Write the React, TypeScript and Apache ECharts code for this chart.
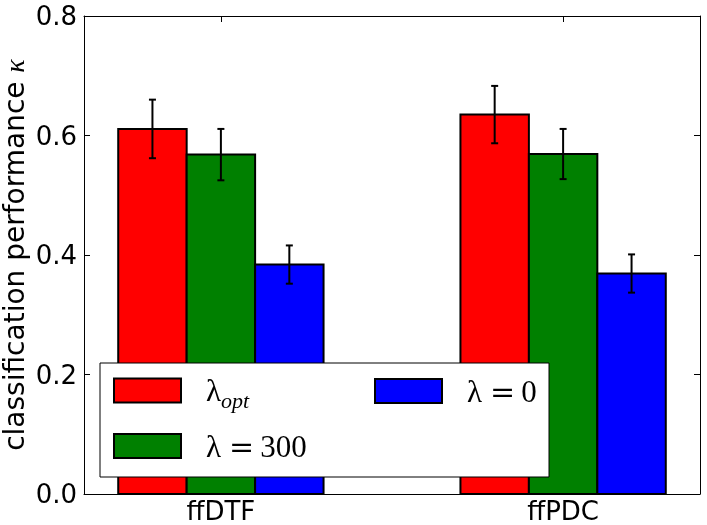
import React, { useEffect, useRef } from "react";
import * as echarts from "echarts";

const categories = ["ffDTF", "ffPDC"];
const seriesNames = ["λ_opt", "λ=300", "λ=0"];
const seriesColors = ["#ff0000", "#008000", "#0000ff"];
const optValues = [0.611, 0.635];
const optErrors = [0.049, 0.048];
const l300Values = [0.568, 0.569];
const l300Errors = [0.043, 0.042];
const l0Values = [0.384, 0.369];
const l0Errors = [0.032, 0.032];
const yTicks = [0, 0.2, 0.4, 0.6, 0.8];

const allValues = [optValues, l300Values, l0Values];
const allErrors = [optErrors, l300Errors, l0Errors];
const offsets = [-0.2, 0, 0.2];
const barW = 0.2;

export default function App() {
  const ref = useRef<HTMLDivElement>(null);
  useEffect(() => {
    if (!ref.current) return;
    document.body.style.margin = "0";
    const chart = echarts.init(ref.current, null, { renderer: "svg" });
    const sans = "DejaVu Sans";
    const serif = "Liberation Serif";

    const series = seriesNames.map((name, si) => ({
      name,
      type: "custom",
      z: 2,
      itemStyle: { color: seriesColors[si], borderColor: "#000", borderWidth: 2 },
      encode: { x: 0, y: 1 },
      data: categories.map((_, ci) => [ci, allValues[si][ci], allErrors[si][ci]]),
      renderItem: (params: any, api: any) => {
        const xc = api.value(0) + offsets[si];
        const v = api.value(1);
        const e = api.value(2);
        const p0 = api.coord([xc - barW / 2, v]);
        const p1 = api.coord([xc + barW / 2, 0]);
        const top = api.coord([xc, v + e]);
        const bot = api.coord([xc, v - e]);
        const cap = 3.5;
        return {
          type: "group",
          children: [
            {
              type: "rect",
              shape: { x: p0[0], y: p0[1], width: p1[0] - p0[0], height: p1[1] - p0[1] },
              style: { fill: seriesColors[si], stroke: "#000", lineWidth: 2 },
            },
            {
              type: "line",
              shape: { x1: top[0], y1: top[1], x2: bot[0], y2: bot[1] },
              style: { stroke: "#000", lineWidth: 2 },
            },
            {
              type: "line",
              shape: { x1: top[0] - cap, y1: top[1], x2: top[0] + cap, y2: top[1] },
              style: { stroke: "#000", lineWidth: 2 },
            },
            {
              type: "line",
              shape: { x1: bot[0] - cap, y1: bot[1], x2: bot[0] + cap, y2: bot[1] },
              style: { stroke: "#000", lineWidth: 2 },
            },
          ],
        };
      },
    }));

    const legendText = {
      color: "#000",
      rich: {
        l: { fontFamily: serif, fontSize: 31, lineHeight: 31, padding: [0, 0, 0, 20], color: "#000" },
        s: { fontFamily: serif, fontSize: 22, lineHeight: 22, fontStyle: "italic", padding: [20, 0, 0, 0], color: "#000" },
        e: { fontFamily: "DejaVu Serif", fontSize: 30, lineHeight: 31, padding: [0, 6, 0, 8], color: "#000" },
        n: { fontFamily: serif, fontSize: 31, lineHeight: 31, color: "#000" },
      },
    };
    const legendFormatter = (name: string) => {
      if (name === "λ_opt") return "{l|λ}{s|opt}";
      const parts = name.split("=");
      return `{l|${parts[0]}}{e|=}{n|${parts[1]}}`;
    };
    const mkLegend = (name: string, left: number, top: number) => ({
      data: [name],
      left,
      top,
      padding: 0,
      icon: "rect",
      itemWidth: 67,
      itemHeight: 24,
      selectedMode: false,
      z: 10,
      itemStyle: { borderColor: "#000", borderWidth: 2 },
      formatter: legendFormatter,
      textStyle: legendText,
    });

    const xBase = {
      type: "value",
      min: -0.4,
      max: 1.4,
      splitLine: { show: false },
      axisLine: { show: true, onZero: false, lineStyle: { color: "#000", width: 1 } },
      axisTick: { show: true, inside: true, length: 6, customValues: [0, 1], lineStyle: { color: "#000" } },
    };
    const yBase = {
      type: "value",
      min: 0,
      max: 0.8,
      interval: 0.2,
      splitLine: { show: false },
      axisLine: { show: true, onZero: false, lineStyle: { color: "#000", width: 1 } },
      axisTick: { show: true, inside: true, length: 6, lineStyle: { color: "#000" } },
    };

    chart.setOption({
      animation: false,
      grid: { left: 84, right: 7, top: 16, bottom: 31, containLabel: false, outerBoundsMode: "none" },
      xAxis: [
        {
          ...xBase,
          position: "bottom",
          axisLabel: {
            customValues: [0, 1],
            formatter: (v: number) => categories[Math.round(v)],
            fontFamily: sans,
            fontSize: 26,
            color: "#000",
            margin: 4,
          },
        },
        { ...xBase, position: "top", axisLabel: { show: false } },
      ],
      yAxis: [
        {
          ...yBase,
          position: "left",
          name: "{a|classification performance }{k|κ}",
          nameLocation: "middle",
          nameGap: 58,
          nameMoveOverlap: false,
          nameTextStyle: {
            rich: {
              a: { fontFamily: sans, fontSize: 28, lineHeight: 24, color: "#000" },
              k: { fontFamily: serif, fontSize: 28, lineHeight: 24, fontStyle: "italic", color: "#000" },
            },
          },
          axisLabel: {
            customValues: yTicks,
            formatter: (v: number) => v.toFixed(1),
            fontFamily: sans,
            fontSize: 26,
            color: "#000",
            margin: 7,
          },
        },
        { ...yBase, position: "right", axisLabel: { show: false } },
      ],
      graphic: {
        z: 5,
        elements: [
          {
            type: "rect",
            z: 5,
            shape: { x: 100, y: 363, width: 449, height: 114 },
            style: { fill: "#fff", stroke: "#000", lineWidth: 1 },
          },
        ],
      },
      legend: [
        mkLegend("λ_opt", 113, 369.5),
        mkLegend("λ=300", 113, 430.5),
        mkLegend("λ=0", 374, 375.5),
      ],
      series,
    });
    return () => chart.dispose();
  }, []);
  return <div ref={ref} style={{ width: 707, height: 525, position: "fixed", left: 0, top: 0 }} />;
}
